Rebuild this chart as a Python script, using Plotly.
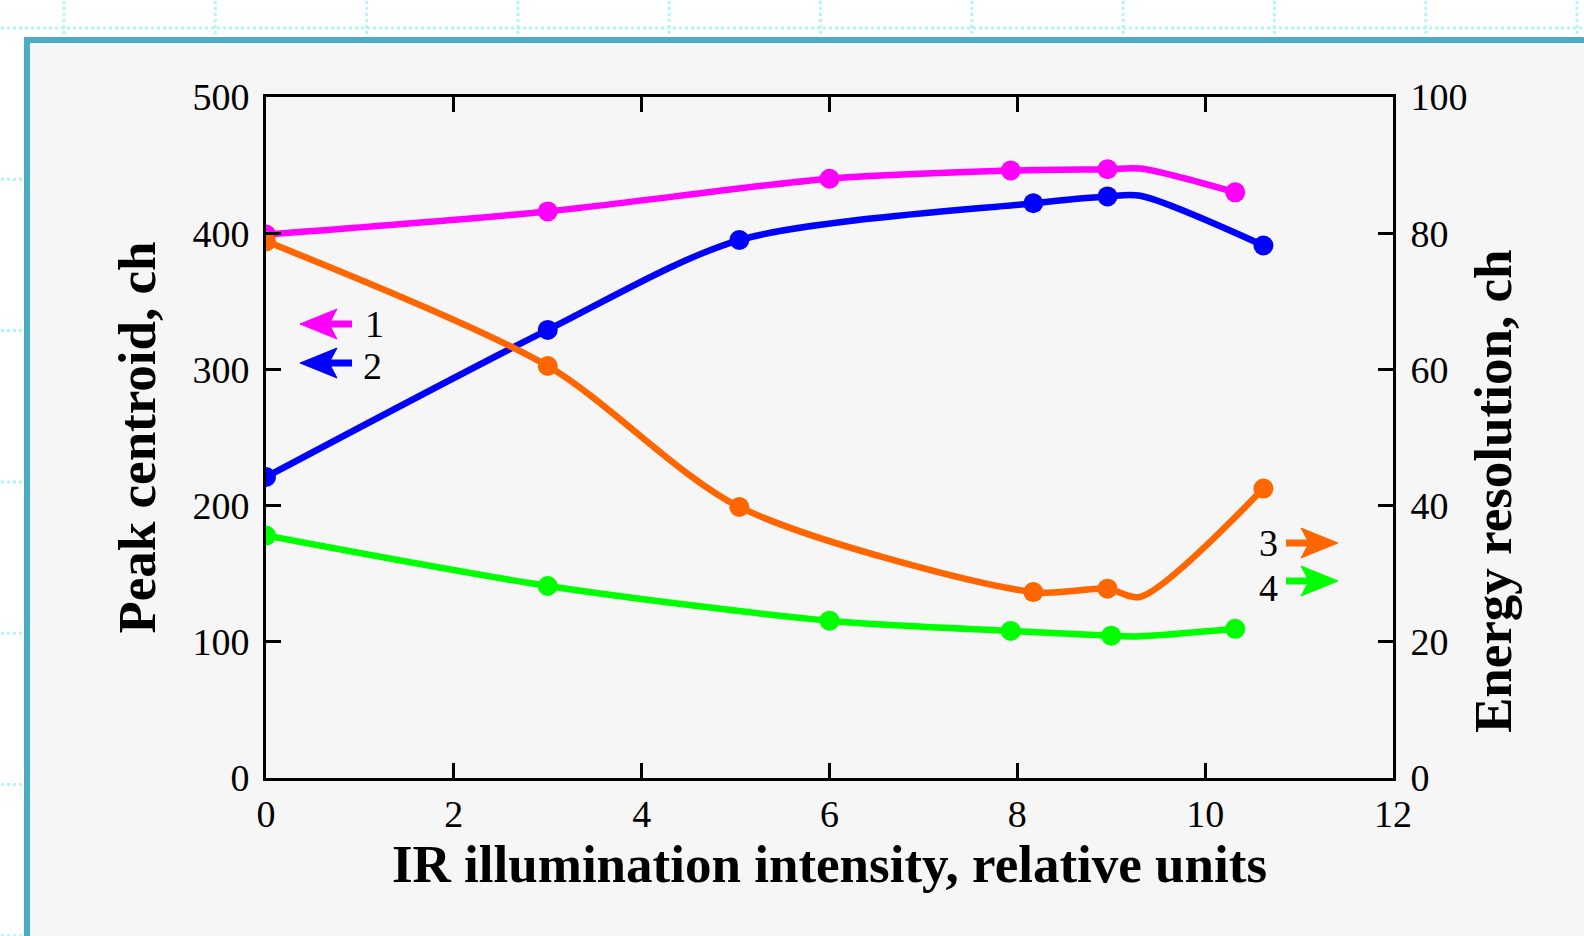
import plotly.graph_objects as go

# ---------------- data ----------------
x_peak1 = [0, 3, 6, 7.93, 8.96, 10.32]
peak1 = [399, 416, 440, 446, 447, 430]
x_peak2 = [0, 3, 5.04, 8.17, 8.96, 10.62]
peak2 = [221, 329, 395, 422, 427, 391]
x_res3 = [0, 3, 5.04, 8.17, 8.96, 10.62]
res3 = [78.8, 60.5, 39.8, 27.3, 27.8, 42.5]
x_res4 = [0, 3, 6, 7.93, 9.0, 10.32]
res4 = [35.6, 28.2, 23.1, 21.6, 20.9, 21.9]

# extra curve knot visible near x ~ 9.3 (line passes there, no marker)
knot_x = 9.31
knot_peak1 = 447.5
knot_peak2 = 427.5
knot_res3 = 26.6
knot_res4 = 20.8

x_ticks = [0, 2, 4, 6, 8, 10, 12]
y_left_ticks = [0, 100, 200, 300, 400, 500]
y_right_ticks = [0, 20, 40, 60, 80, 100]

series_labels = ["1", "2", "3", "4"]
colors = ["#ff00ff", "#0000ff", "#ff6600", "#00ff00"]

# ---------------- layout geometry ----------------
W, H = 1584, 936
L, R, T, B = 266, 1393, 97, 778
PW, PH = R - L, B - T


def px(x):
    return (x - L) / PW


def py(y):
    return (B - y) / PH


def with_knot(xs, ys, kx, ky):
    pts = sorted(list(zip(xs, ys)) + [(kx, ky)])
    return [p[0] for p in pts], [p[1] for p in pts]


fig = go.Figure()

series = [
    (x_peak1, peak1, knot_peak1, "y"),
    (x_peak2, peak2, knot_peak2, "y"),
    (x_res3, res3, knot_res3, "y2"),
    (x_res4, res4, knot_res4, "y2"),
]
for (xs, ys, ky, yax), col, name in zip(series, colors, series_labels):
    lx, ly = with_knot(xs, ys, knot_x, ky)
    fig.add_trace(go.Scatter(x=lx, y=ly, mode="lines", yaxis=yax,
                             line=dict(color=col, width=6.5, shape="spline", smoothing=0.8),
                             showlegend=False, hoverinfo="skip"))
    fig.add_trace(go.Scatter(x=xs, y=ys, mode="markers", yaxis=yax, name=name,
                             marker=dict(color=col, size=20, line=dict(width=0)),
                             showlegend=False))

# ---------------- background: dotted canvas grid + panel ----------------
shapes = []
grid_col = "#b3f5fa"
gx = 64.0
while gx < W + 5:
    shapes.append(dict(type="line", xref="paper", yref="paper", layer="below",
                       x0=px(gx), x1=px(gx), y0=py(-5), y1=py(H + 5),
                       line=dict(color=grid_col, width=3, dash="3px,3px")))
    gx += 151.3
gy = 28.0
while gy < H + 5:
    shapes.append(dict(type="line", xref="paper", yref="paper", layer="below",
                       x0=px(-5), x1=px(W + 5), y0=py(gy), y1=py(gy),
                       line=dict(color=grid_col, width=3, dash="3px,3px")))
    gy += 151.3
shapes.append(dict(type="rect", xref="paper", yref="paper", layer="below",
                   x0=px(27), x1=px(W + 20), y0=py(40), y1=py(H + 20),
                   fillcolor="#f6f6f6", line=dict(color="#4bacc6", width=6)))

# ---------------- legend arrows and labels ----------------
ann = []
# (tip x, y, direction) ; direction -1 points left, +1 points right
arrow_rows = [(300, 324, -1), (300, 363, -1), (1338, 543, 1), (1338, 581, 1)]
label_pos = [(374, 324), (372, 366), (1268, 543), (1268, 588)]
HEAD_LEN, HEAD_HALF, NOTCH, SHAFT = 37, 15, 29, 52
for (tx, ty, d), (lxp, lyp), col, lab in zip(arrow_rows, label_pos, colors, series_labels):
    back = tx - d * HEAD_LEN
    notch = tx - d * NOTCH
    tail = tx - d * SHAFT
    shapes.append(dict(type="line", xref="paper", yref="paper", layer="above",
                       x0=px(notch), x1=px(tail), y0=py(ty), y1=py(ty),
                       line=dict(color=col, width=7)))
    path = (f"M{px(tx)},{py(ty)} L{px(back)},{py(ty - HEAD_HALF)} "
            f"L{px(notch)},{py(ty)} L{px(back)},{py(ty + HEAD_HALF)} Z")
    shapes.append(dict(type="path", xref="paper", yref="paper", layer="above",
                       path=path, fillcolor=col, line=dict(color=col, width=1)))
    ann.append(dict(xref="paper", yref="paper", x=px(lxp), y=py(lyp), text=lab,
                    showarrow=False, xanchor="center", yanchor="middle",
                    font=dict(family="Liberation Serif", size=38, color="black")))

tick_font = dict(family="Liberation Serif", size=38, color="black")
title_font = dict(family="Liberation Serif", size=53, color="black", weight="bold")

# right-hand axis title
ann.append(dict(xref="paper", yref="paper", x=px(1493), y=py(492),
                text="Energy resolution, ch", textangle=-90, showarrow=False,
                xanchor="center", yanchor="middle", font=title_font))

fig.update_layout(
    width=W, height=H,
    margin=dict(l=L, r=W - R, t=T, b=H - B, autoexpand=False),
    paper_bgcolor="white",
    plot_bgcolor="rgba(0,0,0,0)",
    shapes=shapes,
    annotations=ann,
    xaxis=dict(range=[0, 12], tickvals=x_ticks, ticktext=[str(v) for v in x_ticks],
               ticks="inside", ticklen=15, tickwidth=3, tickcolor="black",
               showline=True, linewidth=3, linecolor="black", mirror="ticks",
               showgrid=False, zeroline=False, tickfont=tick_font,
               ticklabelstandoff=0, automargin=False,
               title=dict(text="IR illumination intensity, relative units",
                          font=title_font, standoff=10)),
    yaxis=dict(range=[0, 500], tickvals=y_left_ticks, ticktext=[str(v) for v in y_left_ticks],
               ticks="inside", ticklen=15, tickwidth=3, tickcolor="black",
               showline=True, linewidth=3, linecolor="black", mirror=True,
               showgrid=False, zeroline=False, tickfont=tick_font,
               ticklabelstandoff=6, automargin=False,
               title=dict(text="Peak centroid, ch", font=title_font, standoff=20)),
    yaxis2=dict(range=[0, 100], tickvals=y_right_ticks, ticktext=[str(v) for v in y_right_ticks],
                overlaying="y", side="right",
                ticks="inside", ticklen=15, tickwidth=3, tickcolor="black",
                showline=True, linewidth=3, linecolor="black",
                showgrid=False, zeroline=False, tickfont=tick_font,
                ticklabelstandoff=7, automargin=False),
)

fig.write_html("out.html")
